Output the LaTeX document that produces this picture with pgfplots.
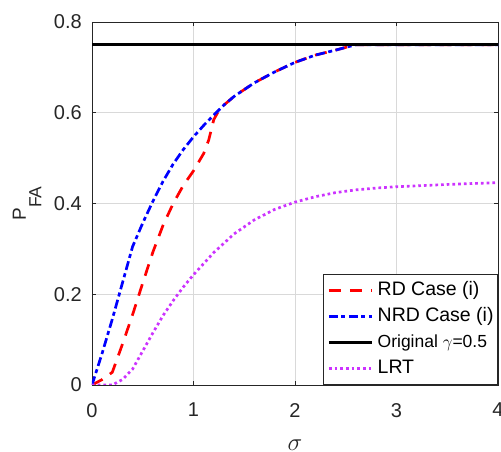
\documentclass[border=0pt]{standalone}
\usepackage{pgfplots}
\pgfplotsset{compat=1.18}
\usepackage{fontspec}
\setmainfont{Liberation Sans}
\definecolor{lrt}{RGB}{204,51,255}
\definecolor{axgray}{RGB}{38,38,38}
\begin{document}
\begin{tikzpicture}
\begin{axis}[
  scale only axis, width=406bp, height=363bp,
  xmin=0, xmax=4, ymin=0, ymax=0.8,
  xtick={0,1,2,3,4}, ytick={0,0.2,0.4,0.6,0.8},
  /pgf/number format/assume math mode=true,
  tick align=inside, major tick length=4bp,
  tick style={axgray, line width=0.7bp},
  axis line style={axgray, line width=0.8bp},
  grid=major, major grid style={black!15, line width=0.6bp},
  ticklabel style={font=\fontsize{20bp}{22bp}\selectfont, text=axgray},
  xticklabel style={inner sep=0pt, anchor=north, yshift=-18bp},
  yticklabel style={inner sep=0pt, anchor=east, xshift=-10bp},
  xlabel={$\sigma$},
  xlabel style={at={(axis description cs:0.5,0)}, anchor=center, inner sep=0pt, yshift=-60bp, font=\fontsize{23bp}{23bp}\selectfont, text=axgray},
  ylabel={P\raisebox{-15.5bp}{\fontsize{17.5bp}{17.5bp}\selectfont FA}},
  ylabel style={at={(axis description cs:-0.124,0.5)}, anchor=south, inner sep=0pt, font=\fontsize{19bp}{20bp}\selectfont, text=axgray},
  legend style={at={(rel axis cs:1,0)}, anchor=south east, draw=axgray, line width=0.8bp, fill=white,
    inner xsep=4bp, inner ysep=6bp, font=\fontsize{19.5bp}{22bp}\selectfont,
    nodes={inner sep=0pt, text height=15bp, text depth=5bp}, row sep=6bp,
    /tikz/every odd column/.append style={column sep=4bp}},
  legend cell align=left,
  legend image code/.code={\draw[#1] (0bp,0bp) -- (43bp,0bp);},
]
\addplot[red, line width=2.7bp, dash pattern=on 12bp off 9bp] coordinates {
(0,0) (0.1,0.012) (0.2,0.028) (0.3,0.09) (0.4,0.155) (0.5,0.225) (0.6,0.293)
(0.7,0.352) (0.8,0.40) (0.9,0.44) (1.0,0.472) (1.1,0.51) (1.15,0.54) (1.2,0.585) (1.25,0.605)
(1.3,0.617) (1.4,0.636) (1.6,0.666) (1.8,0.69) (2.0,0.711) (2.2,0.727) (2.4,0.738) (2.6,0.75) (4,0.75)};
\addlegendentry{RD Case (i)}
\addplot[blue, line width=2.7bp, dash pattern=on 9bp off 3.5bp on 4bp off 3.5bp] coordinates {
(0,0) (0.1,0.07) (0.2,0.145) (0.3,0.225) (0.4,0.305) (0.5,0.357) (0.6,0.405)
(0.7,0.449) (0.8,0.487) (0.9,0.519) (1.0,0.547) (1.1,0.572) (1.2,0.595) (1.3,0.617)
(1.4,0.636) (1.6,0.666) (1.8,0.69) (2.0,0.711) (2.2,0.727) (2.4,0.738) (2.6,0.75) (4,0.75)};
\addlegendentry{NRD Case (i)}
\addplot[black, line width=3.6bp] coordinates {(0,0.75) (4,0.75)};
\addlegendentry{{\fontsize{17.5bp}{20bp}\selectfont Original $\gamma$=0.5}}
\addplot[lrt, line width=2.7bp, dash pattern=on 2.7bp off 3bp] coordinates {
(0,0) (0.2,0) (0.3,0.012) (0.4,0.035) (0.5,0.075) (0.6,0.115) (0.7,0.153) (0.8,0.186)
(0.9,0.216) (1.0,0.243) (1.2,0.292) (1.4,0.333) (1.6,0.364) (1.8,0.387) (2.0,0.403) (2.2,0.415)
(2.4,0.424) (2.6,0.43) (2.8,0.434) (3.0,0.437) (3.5,0.442) (4.0,0.446)};
\addlegendentry{LRT}
\end{axis}
\pgfresetboundingbox
\path[use as bounding box] ([shift={(-92bp,-67bp)}]current axis.south west) rectangle ([shift={(3bp,22bp)}]current axis.north east);
\end{tikzpicture}
\end{document}
